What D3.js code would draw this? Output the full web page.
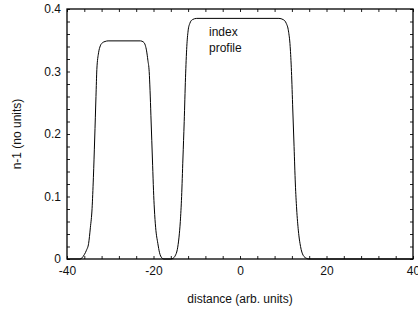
<!DOCTYPE html>
<html>
<head>
<meta charset="utf-8">
<script src="https://cdnjs.cloudflare.com/ajax/libs/d3/7.8.5/d3.min.js"></script>
<style>
  body { margin: 0; background: #fff; }
  svg text { font-family: "Liberation Sans", Arial, sans-serif; font-size: 12px; fill: #111; }
</style>
</head>
<body>
<div class="chart"></div>
<script>
// profile points
var distance = [-40, -37, -36.5, -36, -35.5, -35, -34.6, -34.2, -33.9, -33.6, -33.3, -33.1, -32.7, -32.3, -31.8, -31.2, -30.5,
                -23, -22.3, -21.9, -21.6, -21.3, -21.0, -20.8, -20.6, -20.4, -20.2, -20.0, -19.8, -19.5, -19.0, -18.6, -18.1, -17.6,
                -16, -15.5, -15, -14.5, -14.1, -13.8, -13.5, -13.2, -12.9, -12.6, -12.3, -12.0, -11.6, -11.0, -10,
                9, 10, 10.7, 11.2, 11.6, 11.9, 12.2, 12.5, 12.8, 13.1, 13.5, 14, 14.6, 15.4, 16, 40];
var index = [0, 0, 0.002, 0.007, 0.014, 0.025, 0.05, 0.081, 0.13, 0.192, 0.26, 0.303, 0.33, 0.341, 0.346, 0.348, 0.349,
             0.349, 0.347, 0.342, 0.333, 0.318, 0.30, 0.27, 0.23, 0.19, 0.15, 0.11, 0.08, 0.05, 0.025, 0.01, 0.002, 0,
             0, 0.001, 0.005, 0.015, 0.035, 0.06, 0.1, 0.16, 0.22, 0.29, 0.34, 0.365, 0.377, 0.383, 0.385,
             0.385, 0.383, 0.377, 0.365, 0.34, 0.30, 0.24, 0.18, 0.12, 0.08, 0.045, 0.02, 0.006, 0.001, 0, 0];

var xTicks = [-40, -20, 0, 20, 40];
var xTickLabels = ["-40", "-20", "0", "20", "40"];
var yTicks = [0, 0.1, 0.2, 0.3, 0.4];
var yTickLabels = ["0", "0.1", "0.2", "0.3", "0.4"];
var xMinor = d3.range(-40, 41, 4);
var yMinor = d3.range(0, 0.401, 0.02);

var W = 418, H = 316;
var margin = {left: 67, right: 5, top: 9, bottom: 57};
var w = W - margin.left - margin.right;
var h = H - margin.top - margin.bottom;

var svg = d3.select(".chart").append("svg")
    .attr("width", W)
    .attr("height", H);
var g = svg.append("g")
    .attr("transform", `translate(${margin.left},${margin.top})`);

var xScale = d3.scaleLinear().domain([-40, 40]).range([0, w]);
var yScale = d3.scaleLinear().domain([0, 0.4]).range([h, 0]);

// inward minor ticks on all four sides
function ticks(axis, tr) {
  g.append("g")
    .attr("transform", tr)
    .call(axis.tickSizeInner(-3).tickSizeOuter(0).tickFormat(""))
    .call(a => { a.select(".domain").remove(); a.selectAll("line").attr("stroke", "#222"); });
}
ticks(d3.axisBottom(xScale).tickValues(xMinor), `translate(0,${h})`);
ticks(d3.axisTop(xScale).tickValues(xMinor), "translate(0,0)");
ticks(d3.axisLeft(yScale).tickValues(yMinor), "translate(0,0)");
ticks(d3.axisRight(yScale).tickValues(yMinor), `translate(${w},0)`);

// labels
g.append("g")
  .attr("transform", `translate(0,${h})`)
  .call(d3.axisBottom(xScale).tickValues(xTicks).tickSize(0).tickPadding(7)
        .tickFormat((d, i) => xTickLabels[i]))
  .call(a => { a.select(".domain").remove(); a.selectAll("text").attr("font-size", null); });

g.append("g")
  .call(d3.axisLeft(yScale).tickValues(yTicks).tickSize(0).tickPadding(6)
        .tickFormat((d, i) => yTickLabels[i]))
  .call(a => { a.select(".domain").remove(); a.selectAll("text").attr("font-size", null); });

// frame
g.append("rect")
  .attr("x", 0).attr("y", 0)
  .attr("width", w).attr("height", h)
  .attr("fill", "none")
  .attr("stroke", "#000")
  .attr("stroke-width", 1.3);

var pts = distance.map((d, i) => ({x: d, y: index[i]}));
g.append("path")
  .datum(pts)
  .attr("fill", "none")
  .attr("stroke", "#000")
  .attr("stroke-width", 1)
  .attr("d", d3.line()
    .x(d => xScale(d.x))
    .y(d => yScale(d.y))
    .curve(d3.curveMonotoneX));

g.append("text")
  .attr("x", 142).attr("y", 27)
  .text("index");
g.append("text")
  .attr("x", 142).attr("y", 43)
  .text("profile");

svg.append("text")
  .attr("x", margin.left + w / 2)
  .attr("y", 303)
  .attr("text-anchor", "middle")
  .text("distance (arb. units)");

svg.append("text")
  .attr("transform", `translate(21,${margin.top + h / 2}) rotate(-90)`)
  .attr("text-anchor", "middle")
  .text("n-1 (no units)");
</script>
</body>
</html>
